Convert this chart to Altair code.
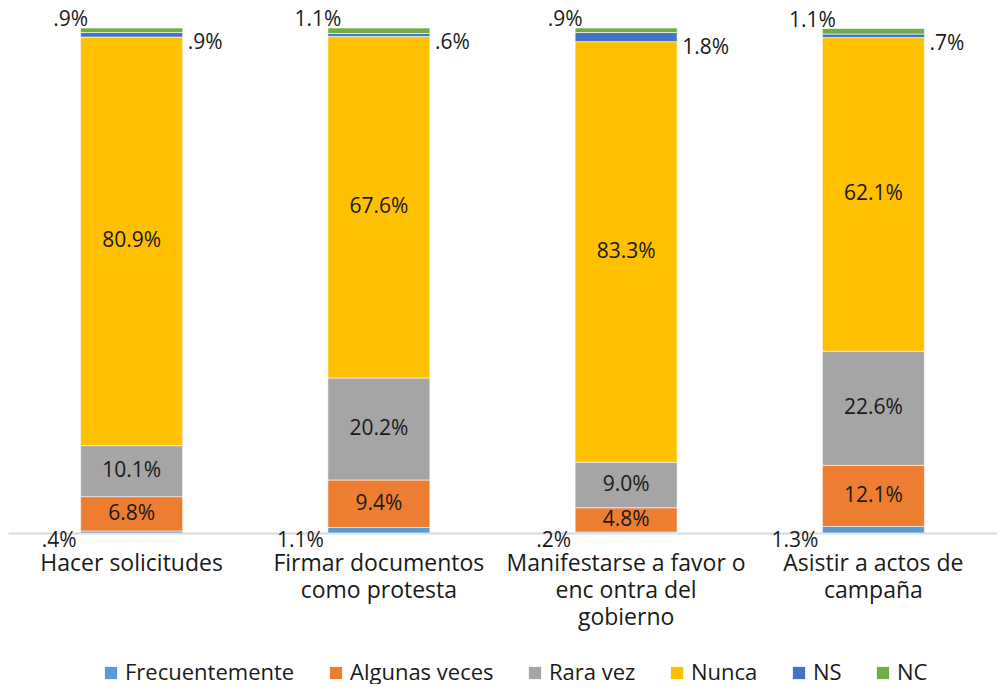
import altair as alt
import pandas as pd

categories = [
    "Hacer solicitudes",
    "Firmar documentos|como protesta",
    "Manifestarse a favor o|enc ontra del|gobierno",
    "Asistir a actos de|campaña",
]
series = ["Frecuentemente", "Algunas veces", "Rara vez", "Nunca", "NS", "NC"]
colors = ["#5B9BD5", "#ED7D31", "#A5A5A5", "#FFC000", "#4472C4", "#70AD47"]

frecuentemente = [0.4, 1.1, 0.2, 1.3]
algunas_veces = [6.8, 9.4, 4.8, 12.1]
rara_vez = [10.1, 20.2, 9.0, 22.6]
nunca = [80.9, 67.6, 83.3, 62.1]
ns = [0.9, 0.6, 1.8, 0.7]
nc = [0.9, 1.1, 0.9, 1.1]

values_by_series = [frecuentemente, algunas_veces, rara_vez, nunca, ns, nc]


def fmt(v):
    s = f"{v:.1f}%"
    return s[1:] if s.startswith("0") else s


rows = []
for si, (s, vals) in enumerate(zip(series, values_by_series)):
    for c, v in zip(categories, vals):
        rows.append({"cat": c, "serie": s, "value": v, "order": si, "label": fmt(v)})
df = pd.DataFrame(rows)

FONT = "Open Sans"
TXT = "#1a1a1a"

base = alt.Chart(df).transform_stack(
    stack="value",
    groupby=["cat"],
    as_=["y0", "y1"],
    sort=[alt.SortField("order", order="ascending")],
).transform_calculate(mid="(datum.y0 + datum.y1) / 2")

x_enc = alt.X(
    "cat:N",
    sort=categories,
    scale=alt.Scale(paddingInner=0, paddingOuter=0),
    axis=alt.Axis(
        title=None,
        labelExpr="split(datum.label, '|')",
        labelAngle=0,
        labelFontSize=23,
        labelFont=FONT,
        labelColor=TXT,
        labelLineHeight=27,
        labelPadding=19,
        labelBaseline="top",
        labelLimit=0,
        ticks=False,
        domainColor="#D9D9D9",
        domainWidth=2,
    ),
)
y_scale = alt.Scale(domain=[0, 100])

bars = base.mark_bar(size=102, stroke="white", strokeWidth=0.6).encode(
    x=x_enc,
    y=alt.Y("y0:Q", scale=y_scale, axis=None),
    y2="y1:Q",
    color=alt.Color(
        "serie:N",
        scale=alt.Scale(domain=series, range=colors),
        sort=series,
        legend=alt.Legend(
            title=None,
            orient="none",
            legendX=92,
            legendY=634,
            direction="horizontal",
            symbolType="square",
            symbolSize=150,
            symbolStrokeWidth=0,
            labelFontSize=22,
            labelFont=FONT,
            labelColor=TXT,
            labelLimit=0,
            labelOffset=3,
            columnPadding=30,
        ),
    ),
)

txt = dict(fontSize=21, font=FONT, color=TXT, baseline="middle")

inner = base.transform_filter(
    alt.FieldOneOfPredicate(field="serie", oneOf=["Algunas veces", "Rara vez", "Nunca"])
).mark_text(**txt).encode(x=x_enc, y=alt.Y("mid:Q", scale=y_scale), text="label:N")

frec = base.transform_filter(alt.datum.serie == "Frecuentemente").mark_text(
    align="right", dx=-55, dy=8, **txt
).encode(x=x_enc, y=alt.Y("y0:Q", scale=y_scale), text="label:N")

nc_lab = base.transform_filter(alt.datum.serie == "NC").mark_text(
    align="center", dx=-61, dy=-8, **txt
).encode(x=x_enc, y=alt.Y("y1:Q", scale=y_scale), text="label:N")

ns_lab = base.transform_filter(alt.datum.serie == "NS").mark_text(
    align="left", dx=56, dy=6, **txt
).encode(x=x_enc, y=alt.Y("y0:Q", scale=y_scale), text="label:N")

chart = alt.layer(bars, inner, frec, nc_lab, ns_lab).properties(
    width=989,
    height=505,
    padding={"top": 0, "left": 0, "right": 0, "bottom": 0},
).configure_view(stroke=None)

chart.save("out.html", embed_options={"renderer": "svg", "actions": False})
